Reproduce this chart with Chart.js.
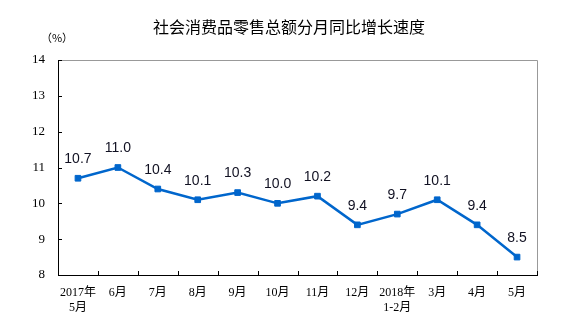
<!DOCTYPE html>
<html>
<head>
<meta charset="utf-8">
<script src="https://cdn.jsdelivr.net/npm/chart.js@4"></script>
<style>
  body { margin: 0; background: #fff; }
  #wrap { width: 573px; height: 332px; }
</style>
</head>
<body>
<div id="wrap"><canvas id="myChart"></canvas></div>
<script>
const months = [
  ["2017年", "5月"], "6月", "7月", "8月", "9月", "10月", "11月", "12月",
  ["2018年", "1-2月"], "3月", "4月", "5月"
];
const growth = [10.7, 11.0, 10.4, 10.1, 10.3, 10.0, 10.2, 9.4, 9.7, 10.1, 9.4, 8.5];
const yTicks = [8, 9, 10, 11, 12, 13, 14];

const chartTitle = '社会消费品零售总额分月同比增长速度';
const unitLabel = '（%）';

// frame, inward ticks, value labels and titles
const decorations = {
  id: 'decorations',
  beforeDatasetsDraw(chart) {
    const { ctx, chartArea: a, scales } = chart;
    ctx.save();
    ctx.strokeStyle = '#999999';
    ctx.lineWidth = 1;
    ctx.beginPath();
    ctx.moveTo(a.left, a.top + 0.5);
    ctx.lineTo(a.right + 0.5, a.top + 0.5);
    ctx.lineTo(a.right + 0.5, a.bottom);
    ctx.stroke();

    ctx.strokeStyle = '#000';
    ctx.beginPath();
    ctx.moveTo(a.left + 0.5, a.top);
    ctx.lineTo(a.left + 0.5, a.bottom + 0.5);
    ctx.lineTo(a.right + 1, a.bottom + 0.5);
    ctx.stroke();

    // y ticks, pointing inward
    ctx.beginPath();
    yTicks.forEach(v => {
      const y = Math.round(scales.y.getPixelForValue(v)) + 0.5;
      ctx.moveTo(a.left, y);
      ctx.lineTo(a.left + 4, y);
    });
    // x ticks between categories, pointing inward
    for (let i = 0; i <= months.length; i++) {
      const x = Math.round(scales.x.getPixelForValue(i - 0.5)) + 0.5;
      ctx.moveTo(x, a.bottom);
      ctx.lineTo(x, a.bottom - 4);
    }
    ctx.stroke();
    ctx.restore();
  },
  afterDraw(chart) {
    const { ctx } = chart;
    ctx.save();
    ctx.fillStyle = '#000';
    ctx.textAlign = 'center';
    ctx.textBaseline = 'middle';
    ctx.font = '16px "Noto Sans CJK SC"';
    ctx.fillText(chartTitle, 289, 27);
    ctx.font = '11px "Noto Sans CJK SC"';
    ctx.fillText(unitLabel, 57, 38);

    const meta = chart.getDatasetMeta(0);
    ctx.font = '14px "Liberation Sans", Arial, sans-serif';
    ctx.fillStyle = '#111122';
    meta.data.forEach((pt, i) => {
      ctx.fillText(growth[i].toFixed(1), pt.x, pt.y - 19);
    });
    ctx.restore();
  }
};

new Chart(document.getElementById('myChart'), {
  type: 'line',
  data: {
    labels: months,
    datasets: [{
      data: growth,
      borderColor: '#0066cc',
      backgroundColor: '#0066cc',
      borderWidth: 2.5,
      fill: false,
      tension: 0,
      pointStyle: 'rect',
      pointRadius: 4,
      pointBorderWidth: 1,
      pointBackgroundColor: '#0066cc',
      pointBorderColor: '#0066cc'
    }]
  },
  options: {
    responsive: true,
    maintainAspectRatio: false,
    animation: false,
    layout: { padding: { left: 0, top: 60, right: 36, bottom: 0 } },
    plugins: {
      legend: { display: false },
      tooltip: { enabled: false }
    },
    scales: {
      x: {
        offset: true,
        grid: { display: false, drawTicks: false },
        border: { display: false },
        ticks: {
          color: '#000',
          padding: 11,
          maxRotation: 0,
          autoSkip: false,
          font: { family: '"Liberation Serif", "Noto Sans CJK SC"', size: 12 }
        },
        afterFit(scale) { scale.height = 57; }
      },
      y: {
        min: 8,
        max: 14,
        grid: { display: false, drawTicks: false },
        border: { display: false },
        ticks: {
          stepSize: 1,
          color: '#000',
          padding: 13,
          font: { family: '"Liberation Serif", serif', size: 13 }
        },
        afterFit(scale) { scale.width = 58; }
      }
    }
  },
  plugins: [decorations]
});
</script>
</body>
</html>
